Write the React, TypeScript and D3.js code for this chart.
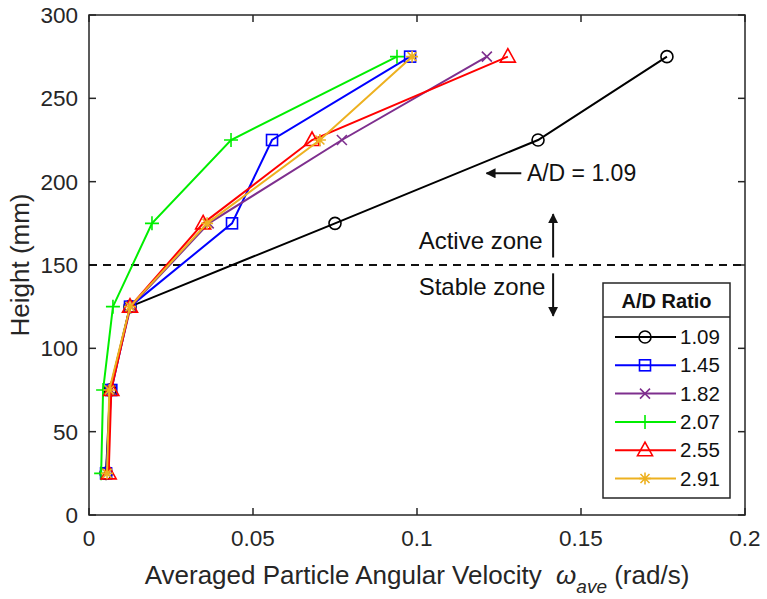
import React, { useEffect, useRef } from 'react';
import * as d3 from 'd3';

// Heights (mm) shared by every series
const heights = [25, 75, 125, 175, 225, 275];

// Averaged angular velocity (rad/s) per A/D ratio
const ratios = ['1.09', '1.45', '1.82', '2.07', '2.55', '2.91'];
const omega109 = [0.0052, 0.0064, 0.0125, 0.075, 0.1369, 0.1762];
const omega145 = [0.0052, 0.0068, 0.0125, 0.0436, 0.0558, 0.0979];
const omega182 = [0.0055, 0.0066, 0.0127, 0.0365, 0.0771, 0.1213];
const omega207 = [0.0037, 0.0043, 0.0073, 0.0192, 0.0433, 0.0939];
const omega255 = [0.006, 0.0068, 0.0125, 0.0348, 0.068, 0.1277];
const omega291 = [0.0055, 0.0062, 0.0125, 0.036, 0.0704, 0.0985];

const seriesColors = ['#000000', '#0000ff', '#7e2f8e', '#00ee00', '#ff0000', '#edb120'];
const seriesMarkers = ['circle', 'square', 'cross', 'plus', 'triangle', 'star'];

const xTicks = [0, 0.05, 0.1, 0.15, 0.2];
const yTicks = [0, 50, 100, 150, 200, 250, 300];

const FONT = '"Liberation Sans", Arial, sans-serif';

const App = () => {
    const svgRef = useRef<SVGSVGElement>(null);

    useEffect(() => {
        const width = 767;
        const height = 599;
        const m = { left: 89, right: 745, top: 15, bottom: 515 };

        const svg = d3.select(svgRef.current);
        svg.selectAll('*').remove();
        svg.attr('width', width).attr('height', height);

        const x = d3.scaleLinear().domain([0, 0.2]).range([m.left, m.right]);
        const y = d3.scaleLinear().domain([0, 300]).range([m.bottom, m.top]);

        svg.append('rect').attr('width', width).attr('height', height).attr('fill', 'white');

        // Axes box and ticks
        const axisColor = '#262626';
        svg.append('rect')
            .attr('x', m.left).attr('y', m.top)
            .attr('width', m.right - m.left).attr('height', m.bottom - m.top)
            .attr('fill', 'none').attr('stroke', axisColor).attr('stroke-width', 1.5);

        xTicks.forEach(t => {
            svg.append('line').attr('x1', x(t)).attr('x2', x(t)).attr('y1', m.bottom).attr('y2', m.bottom - 7)
                .attr('stroke', axisColor).attr('stroke-width', 1.5);
            svg.append('line').attr('x1', x(t)).attr('x2', x(t)).attr('y1', m.top).attr('y2', m.top + 7)
                .attr('stroke', axisColor).attr('stroke-width', 1.5);
            svg.append('text').attr('x', x(t)).attr('y', m.bottom + 31)
                .attr('text-anchor', 'middle').attr('font-family', FONT).attr('font-size', 22.5)
                .attr('fill', axisColor).text(String(t));
        });

        yTicks.forEach(t => {
            svg.append('line').attr('x1', m.left).attr('x2', m.left + 7).attr('y1', y(t)).attr('y2', y(t))
                .attr('stroke', axisColor).attr('stroke-width', 1.5);
            svg.append('line').attr('x1', m.right).attr('x2', m.right - 7).attr('y1', y(t)).attr('y2', y(t))
                .attr('stroke', axisColor).attr('stroke-width', 1.5);
            svg.append('text').attr('x', m.left - 11).attr('y', y(t) + 8)
                .attr('text-anchor', 'end').attr('font-family', FONT).attr('font-size', 22.5)
                .attr('fill', axisColor).text(String(t));
        });

        // Axis labels
        svg.append('text')
            .attr('transform', `translate(29,${(m.top + m.bottom) / 2}) rotate(-90)`)
            .attr('text-anchor', 'middle').attr('font-family', FONT).attr('font-size', 26)
            .attr('fill', axisColor).text('Height (mm)');

        const xl = svg.append('text')
            .attr('x', (m.left + m.right) / 2).attr('y', 584)
            .attr('text-anchor', 'middle').attr('font-family', FONT).attr('font-size', 26)
            .attr('fill', axisColor);
        xl.append('tspan').text('Averaged Particle Angular Velocity\u00a0\u00a0');
        xl.append('tspan').attr('font-style', 'italic').text('ω');
        xl.append('tspan').attr('font-style', 'italic').attr('font-size', 19).attr('dy', 9).text('ave');
        xl.append('tspan').attr('dy', -9).text(' (rad/s)');

        // Dashed zone boundary at 150 mm
        svg.append('line')
            .attr('x1', m.left).attr('x2', m.right).attr('y1', y(150)).attr('y2', y(150))
            .attr('stroke', '#111').attr('stroke-width', 2).attr('stroke-dasharray', '8,6');

        // Arrowhead marker
        svg.append('defs').append('marker')
            .attr('id', 'arrow').attr('viewBox', '0 0 10 10').attr('refX', 9).attr('refY', 5)
            .attr('markerWidth', 5).attr('markerHeight', 5).attr('orient', 'auto')
            .append('path').attr('d', 'M0,0 L10,5 L0,10 z').attr('fill', '#111');

        // Annotations
        svg.append('line')
            .attr('x1', x(0.1318)).attr('x2', x(0.1212)).attr('y1', y(205)).attr('y2', y(205))
            .attr('stroke', '#111').attr('stroke-width', 2).attr('marker-end', 'url(#arrow)');
        svg.append('text').attr('x', x(0.1335)).attr('y', y(205) + 8)
            .attr('font-family', FONT).attr('font-size', 23).attr('fill', '#111').text('A/D = 1.09');

        svg.append('line')
            .attr('x1', x(0.1415)).attr('x2', x(0.1415)).attr('y1', y(154.5)).attr('y2', y(180.5))
            .attr('stroke', '#111').attr('stroke-width', 2).attr('marker-end', 'url(#arrow)');
        svg.append('text').attr('x', x(0.1005)).attr('y', y(165) + 8.5)
            .attr('font-family', FONT).attr('font-size', 24).attr('fill', '#111').text('Active zone');

        svg.append('line')
            .attr('x1', x(0.1415)).attr('x2', x(0.1415)).attr('y1', y(145)).attr('y2', y(119.5))
            .attr('stroke', '#111').attr('stroke-width', 2).attr('marker-end', 'url(#arrow)');
        svg.append('text').attr('x', x(0.1005)).attr('y', y(137) + 8.5)
            .attr('font-family', FONT).attr('font-size', 24).attr('fill', '#111').text('Stable zone');

        // Marker drawing helper
        const drawMarker = (g, kind, cx, cy, color) => {
            const s = 1.6;
            if (kind === 'circle') {
                g.append('circle').attr('cx', cx).attr('cy', cy).attr('r', 6)
                    .attr('fill', 'none').attr('stroke', color).attr('stroke-width', s);
            } else if (kind === 'square') {
                g.append('rect').attr('x', cx - 5.5).attr('y', cy - 5.5).attr('width', 11).attr('height', 11)
                    .attr('fill', 'none').attr('stroke', color).attr('stroke-width', s);
            } else if (kind === 'triangle') {
                g.append('path').attr('d', `M${cx},${cy - 8} L${cx + 7.5},${cy + 5.5} L${cx - 7.5},${cy + 5.5} Z`)
                    .attr('fill', 'none').attr('stroke', color).attr('stroke-width', s);
            } else if (kind === 'cross') {
                g.append('path').attr('d', `M${cx - 5},${cy - 5} L${cx + 5},${cy + 5} M${cx - 5},${cy + 5} L${cx + 5},${cy - 5}`)
                    .attr('stroke', color).attr('stroke-width', s);
            } else if (kind === 'plus') {
                g.append('path').attr('d', `M${cx - 7},${cy} L${cx + 7},${cy} M${cx},${cy - 7} L${cx},${cy + 7}`)
                    .attr('stroke', color).attr('stroke-width', s);
            } else if (kind === 'star') {
                g.append('path').attr('d', `M${cx - 6},${cy} L${cx + 6},${cy} M${cx},${cy - 6} L${cx},${cy + 6} M${cx - 4.5},${cy - 4.5} L${cx + 4.5},${cy + 4.5} M${cx - 4.5},${cy + 4.5} L${cx + 4.5},${cy - 4.5}`)
                    .attr('stroke', color).attr('stroke-width', s);
            }
        };

        // Series lines and markers
        const allSeries = [omega109, omega145, omega182, omega207, omega255, omega291];
        const line = d3.line<number>().x(d => x(d)).y((d, i) => y(heights[i]));

        allSeries.forEach((vals, si) => {
            const g = svg.append('g');
            g.append('path').attr('d', line(vals))
                .attr('fill', 'none').attr('stroke', seriesColors[si]).attr('stroke-width', 2);
            vals.forEach((v, i) => drawMarker(g, seriesMarkers[si], x(v), y(heights[i]), seriesColors[si]));
        });

        // Legend
        const lg = svg.append('g');
        const lx = 603, lw = 127, ly = 283;
        lg.append('rect').attr('x', lx).attr('y', ly).attr('width', lw).attr('height', 215)
            .attr('fill', 'white').attr('stroke', axisColor).attr('stroke-width', 1.5);
        lg.append('line').attr('x1', lx).attr('x2', lx + lw).attr('y1', ly + 34).attr('y2', ly + 34)
            .attr('stroke', axisColor).attr('stroke-width', 1.5);
        lg.append('text').attr('x', lx + lw / 2).attr('y', ly + 25)
            .attr('text-anchor', 'middle').attr('font-family', FONT).attr('font-weight', 'bold')
            .attr('font-size', 20).attr('fill', '#111').text('A/D Ratio');
        ratios.forEach((r, i) => {
            const ry = 337 + i * 28.3;
            lg.append('line').attr('x1', 615).attr('x2', 676).attr('y1', ry).attr('y2', ry)
                .attr('stroke', seriesColors[i]).attr('stroke-width', 2);
            drawMarker(lg, seriesMarkers[i], 645, ry, seriesColors[i]);
            lg.append('text').attr('x', 680).attr('y', ry + 7)
                .attr('font-family', FONT).attr('font-size', 20.5).attr('fill', '#111').text(r);
        });
    }, []);

    return (
        <svg ref={svgRef} style={{ position: 'absolute', left: 0, top: 0 }}></svg>
    );
};

export default App;
